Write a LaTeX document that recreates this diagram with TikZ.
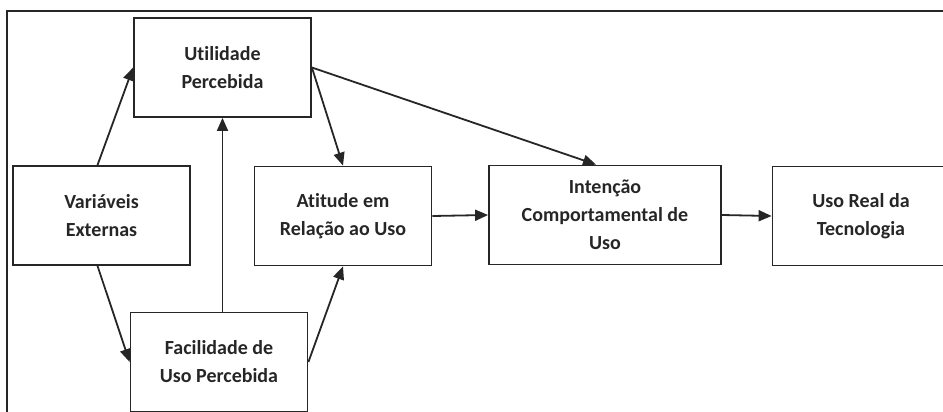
\documentclass[tikz,border=0pt]{standalone}
\usepackage{fontspec}
\setmainfont{Carlito}[Ligatures=NoCommon]
\usetikzlibrary{arrows.meta}
\tikzset{
  bloco/.style={draw, line width=1.8pt, align=center, minimum width=177pt,
    minimum height=99pt, inner sep=2pt,
    font=\fontsize{20}{28}\selectfont\bfseries},
  seta/.style={line width=1.8pt, -{Triangle[length=13pt,width=11pt]}}
}
\begin{document}
\begin{tikzpicture}[x=1pt,y=-1pt,color=black!85]
\path[use as bounding box, clip] (0,0) rectangle (943,412);
% moldura
\draw[line width=1.8pt] (7,420) -- (7,11) -- (950,11);
% blocos
\node[bloco] (util) at (222.5,67.5) {Utilidade\\Percebida};
\node[bloco] (var) at (101.5,215.5) {Variáveis\\Externas};
\node[bloco] (atit) at (343,216) {Atitude em\\Relação ao Uso};
\node[bloco] (facil) at (219,362) {Facilidade de\\Uso Percebida};
\node[bloco, minimum width=232pt] (inten) at (605,215) {Intenção\\Comportamental de\\Uso};
\node[bloco] (uso) at (861,216) {Uso Real da\\Tecnologia};
% setas
\draw[seta] ([xshift=-4pt]var.north) -- (util.west);
\draw[seta] ([xshift=-4pt]var.south) -- (facil.west);
\draw[seta] (facil.north -| util.south) -- (util.south);
\draw[seta] (facil.east) -- (atit.south);
\draw[seta] (util.east) -- (atit.north);
\draw[seta] (util.east) -- ([xshift=-9pt]inten.north);
\draw[seta] (atit.east) -- (inten.west);
\draw[seta] (inten.east) -- (uso.west);
\end{tikzpicture}
\end{document}
